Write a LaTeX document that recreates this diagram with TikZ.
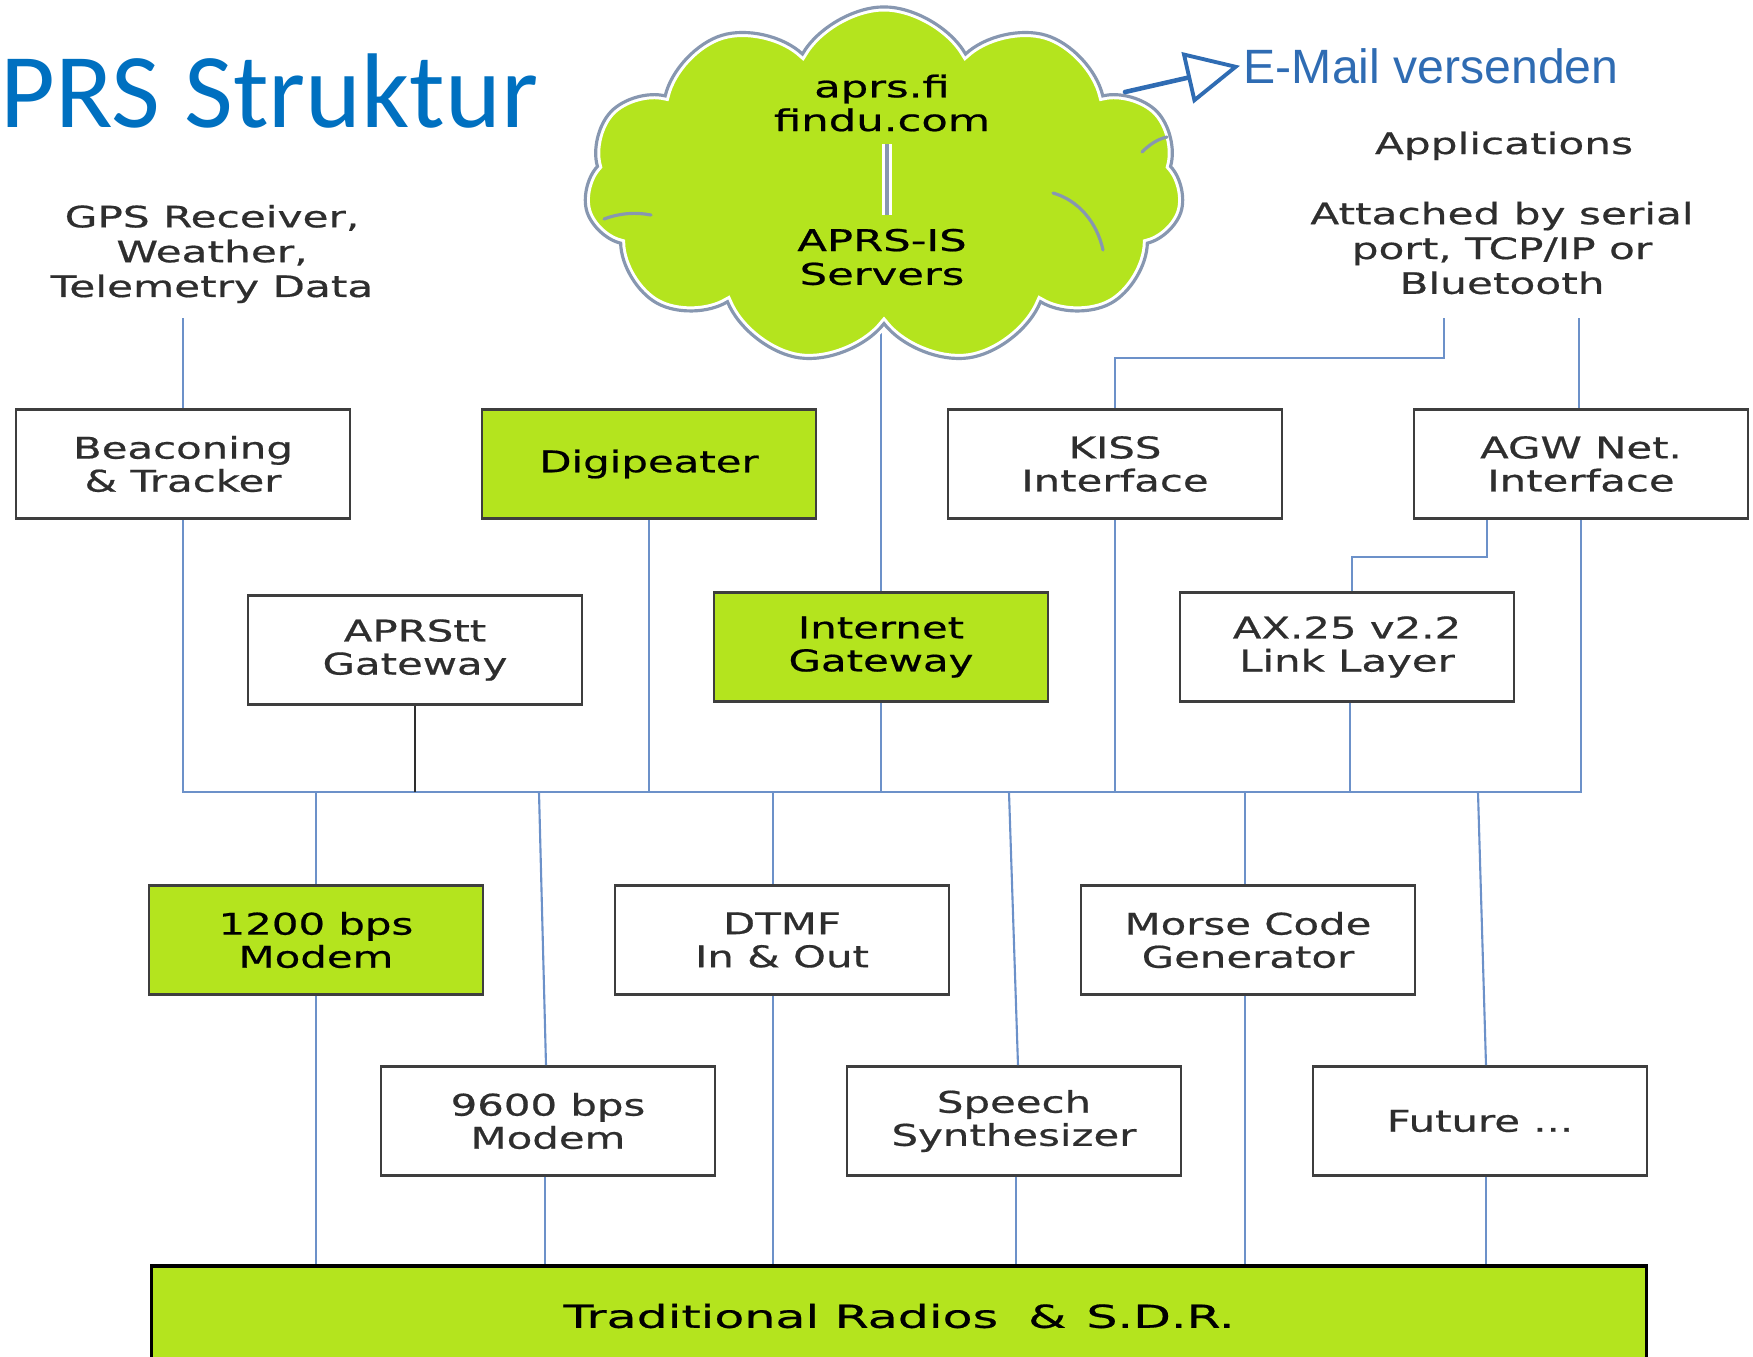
\documentclass[tikz,border=0pt]{standalone}
\usepackage{fontspec}
\setmainfont{DejaVu Sans}
\newfontfamily\boxfont[FakeStretch=1.4,FakeBold=0.6]{DejaVu Sans}
\newfontfamily\sidefont[FakeStretch=1.43,FakeBold=0.6]{DejaVu Sans}
\newfontfamily\cloudfont[FakeStretch=1.45,FakeBold=0.7]{DejaVu Sans}
\newfontfamily\barfont[FakeStretch=1.55,FakeBold=0.6]{DejaVu Sans}
\newfontfamily\titlefont{Carlito}
\newfontfamily\arialfont{Liberation Sans}
\usetikzlibrary{shapes.symbols,arrows.meta}
\definecolor{aprsgreen}{HTML}{B4E41E}
\definecolor{wireblue}{HTML}{6C91C9}
\definecolor{boxgray}{HTML}{3E3E3E}
\definecolor{txtgray}{HTML}{2E2E2E}
\definecolor{cloudline}{HTML}{8797B0}
\definecolor{titleblue}{HTML}{0070C0}
\definecolor{mailblue}{HTML}{2F6CB3}
\begin{document}
\begin{tikzpicture}[x=0.01cm, y=-0.01cm,
  box/.style={draw=boxgray, line width=0.75pt, minimum width=3.34cm, minimum height=1.09cm,
    inner sep=1pt, align=center, text=txtgray, font=\boxfont\fontsize{8.5}{9.4}\selectfont},
  gbox/.style={box, fill=aprsgreen, text=black},
  side/.style={align=center, inner sep=0pt, text=txtgray, font=\sidefont\fontsize{8.4}{9.9}\selectfont},
  cloudtxt/.style={align=center, inner sep=0pt, text=black, font=\cloudfont\fontsize{8.5}{9.6}\selectfont},
  wire/.style={draw=wireblue, line width=0.6pt},
  darkwire/.style={draw=txtgray, line width=0.75pt},
  cloudbase/.style={cloud, cloud puffs=11, cloud puff arc=120, aspect=1.74,
    minimum width=6.0cm, minimum height=3.58cm, inner sep=0pt},
  crease/.style={draw=cloudline, line width=0.9pt, line cap=round},
  mailarrow/.style={draw=mailblue, line width=1.3pt, line cap=round,
    -{Triangle[open, length=0.54cm, width=0.52cm, line width=1.1pt]}}]

\useasboundingbox (0,0) rectangle (1753,1356);

% title and free labels
\node[anchor=base west, inner sep=0pt, text=titleblue,
  font=\titlefont\fontsize{30.2}{32}\selectfont] (title) at (0,127) {PRS Struktur};
\node[side] (gps) at (212,254) {GPS Receiver,\\Weather,\\Telemetry Data};
\node[side, anchor=base] (apps) at (1504,154) {Applications};
\node[side] (attach) at (1502,248) {Attached by serial\\port, TCP/IP or\\Bluetooth};
\node[anchor=base west, inner sep=0pt, text=mailblue,
  font=\arialfont\fontsize{13.7}{16}\selectfont] (mail) at (1243,83) {E-Mail versenden};

% boxes
\node[box]  (beacon) at (183,464)  {Beaconing\\\& Tracker};
\node[gbox] (digi)   at (649,464)  {Digipeater};
\node[box]  (kiss)   at (1115,464) {KISS\\Interface};
\node[box]  (agw)    at (1581,464) {AGW Net.\\Interface};
\node[box]  (aprstt) at (415,650)  {APRStt\\Gateway};
\node[gbox] (igw)    at (881,647)  {Internet\\Gateway};
\node[box]  (ax25)   at (1347,647) {AX.25 v2.2\\Link Layer};
\node[gbox] (m1200)  at (316,940)  {1200 bps\\Modem};
\node[box]  (dtmf)   at (782,940)  {DTMF\\In \& Out};
\node[box]  (morse)  at (1248,940) {Morse Code\\Generator};
\node[box]  (m9600)  at (548,1121) {9600 bps\\Modem};
\node[box]  (speech) at (1014,1121){Speech\\Synthesizer};
\node[box]  (future) at (1480,1121){Future ...};
\node[gbox, draw=black, line width=1pt, minimum width=14.94cm, minimum height=1.0cm,
  font=\barfont\fontsize{9}{10}\selectfont] (bar) at (899,1316)
  {Traditional Radios\hspace{0.3cm}\&\hspace{0.2cm}S.D.R.};

% helper coordinates
\coordinate (busL) at (183,792);
\coordinate (gpsline) at (183,318);
\coordinate (appL) at (1444,318);
\coordinate (appR) at (1579,318);
\coordinate (kissjog) at (1115,358);
\coordinate (agwjog) at (1487,557);
\coordinate (axjog) at (1352,557);
\coordinate (cloudc) at (884,186);
\coordinate (mailstart) at (1125,92);

% upper connectors
\draw[wire] (gpsline) -- (beacon.north);
\draw[wire] (appL) |- (kissjog) -- (kiss.north);
\draw[wire] (appR) -- (appR |- agw.north);
\draw[wire] (agw.south -| agwjog) -- (agwjog) -- (axjog) -- (axjog |- ax25.north);
\draw[wire] (igw.north) -- (igw.north |- cloudc);

% bus
\draw[wire] (beacon.south) -- (beacon.south |- busL) -- (agw.south |- busL) -- (agw.south);
\draw[wire] (digi.south) -- (digi.south |- busL);
\draw[wire] (igw.south) -- (igw.south |- busL);
\draw[wire] (kiss.south) -- (kiss.south |- busL);
\draw[wire] ([xshift=0.03cm]ax25.south) -- ([xshift=0.03cm]ax25.south |- busL);
\draw[darkwire] (aprstt.south) -- (aprstt.south |- busL);

% lower connectors
\draw[wire] (m1200.north |- busL) -- (m1200.north);
\draw[wire] (m1200.south) -- (m1200.south |- bar.north);
\draw[wire] ([xshift=-0.09cm]m9600.north |- busL) -- ([xshift=-0.02cm]m9600.north);
\draw[wire] ([xshift=-0.03cm]m9600.south) -- ([xshift=-0.03cm]m9600.south |- bar.north);
\draw[wire] ([xshift=-0.09cm]dtmf.north |- busL) -- ([xshift=-0.09cm]dtmf.north);
\draw[wire] ([xshift=-0.09cm]dtmf.south) -- ([xshift=-0.09cm]dtmf.south |- bar.north);
\draw[wire] ([xshift=-0.05cm]speech.north |- busL) -- ([xshift=0.04cm]speech.north);
\draw[wire] ([xshift=0.02cm]speech.south) -- ([xshift=0.02cm]speech.south |- bar.north);
\draw[wire] ([xshift=-0.03cm]morse.north |- busL) -- ([xshift=-0.03cm]morse.north);
\draw[wire] ([xshift=-0.03cm]morse.south) -- ([xshift=-0.03cm]morse.south |- bar.north);
\draw[wire] ([xshift=-0.02cm]future.north |- busL) -- ([xshift=0.06cm]future.north);
\draw[wire] ([xshift=0.06cm]future.south) -- ([xshift=0.06cm]future.south |- bar.north);

% cloud
\node[cloudbase, fill=aprsgreen, draw=white, line width=2.6pt] (cloud) at (cloudc) {};
\node[cloudbase, draw=cloudline, line width=0.9pt] (cloudedge) at (cloudc) {};
\draw[crease] (604,219) .. controls (620,213) and (636,212) .. (651,215);
\draw[crease] (1053,193) .. controls (1078,200) and (1097,222) .. (1103,250);
\draw[crease] (1142,152) .. controls (1150,144) and (1158,139) .. (1167,137);

\node[cloudtxt] (cloudtop) at (882,103) {aprs.fi\\findu.com};
\node[cloudtxt] (cloudbot) at (882,257) {APRS-IS\\Servers};
\draw[draw=white, line width=2.6pt, shorten <=0.12cm, shorten >=0.13cm]
  ([xshift=0.05cm]cloudtop.south) -- ([xshift=0.05cm]cloudbot.north);
\draw[draw=cloudline, line width=0.9pt, shorten <=0.12cm, shorten >=0.13cm]
  ([xshift=0.05cm]cloudtop.south) -- ([xshift=0.05cm]cloudbot.north);

% e-mail arrow
\draw[mailarrow] (mailstart) -- ([xshift=-0.03cm]mail.west);
\end{tikzpicture}
\end{document}
